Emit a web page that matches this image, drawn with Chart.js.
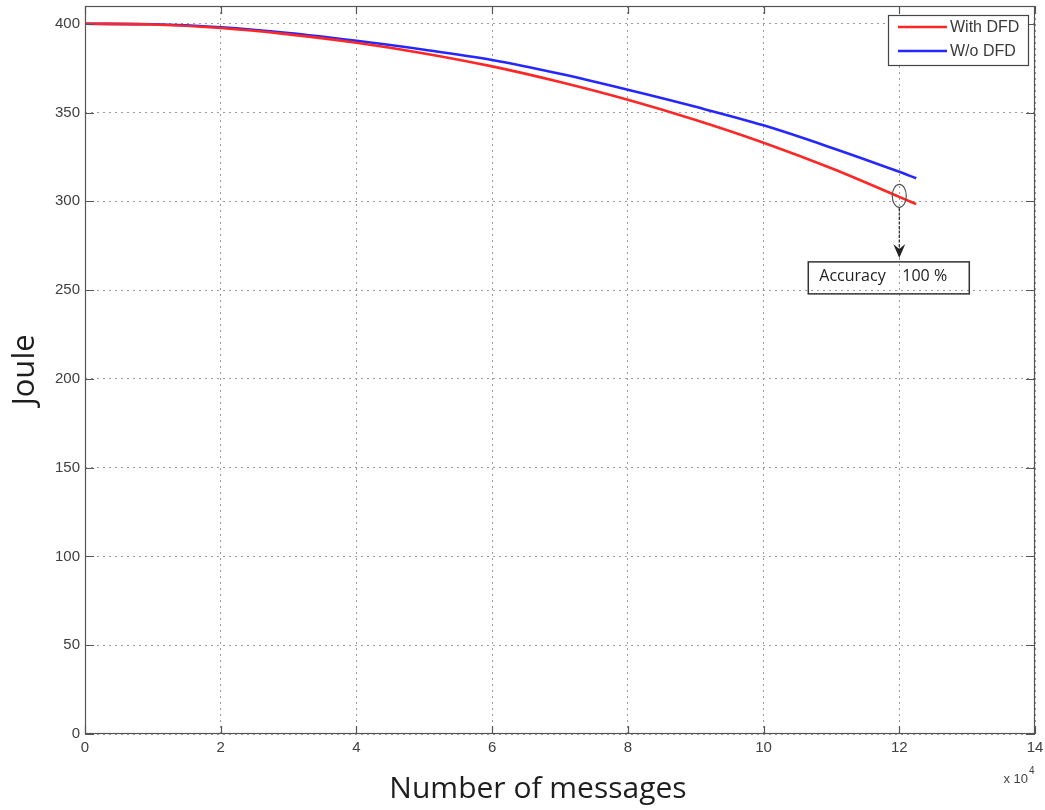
<!DOCTYPE html>
<html>
<head>
<meta charset="utf-8">
<script src="https://cdn.jsdelivr.net/npm/chart.js@4.4.1/dist/chart.umd.min.js"></script>
<style>
  html, body { margin: 0; padding: 0; background: #ffffff; }
  #wrap { width: 1045px; height: 810px; }
</style>
</head>
<body>
<div id="wrap"><canvas id="c" width="1045" height="810"></canvas></div>
<script>
// Number of messages, in units of 10^4
const messages = [0, 1, 2, 3, 4, 5, 6, 7, 8, 9, 10, 11, 12, 12.25];
// Residual energy (Joule)
const withDFD = [400, 399.6, 397.6, 394, 389.3, 383.3, 376, 367.2, 357.2, 345.8, 333, 318.6, 302.5, 298.4];
const withoutDFD = [400, 399.7, 398, 394.8, 390.4, 385.4, 379.6, 371.8, 362.8, 353.2, 342.8, 330.2, 316.6, 313];
const seriesNames = ['With DFD', 'W/o DFD'];
const seriesColors = ['#ff2626', '#2626ff'];
const xTicks = [0, 2, 4, 6, 8, 10, 12, 14];
const yTicks = [0, 50, 100, 150, 200, 250, 300, 350, 400];
const annotationPoint = { x: 12, y: 302.5, text1: 'Accuracy', text2: '100 %' };
const xTitle = 'Number of messages';
const xExponent = '4';

const tickFont = { family: '"Liberation Sans", Arial, sans-serif', size: 15 };

// Box around the axes with inward tick marks, legend, annotation, axis title, exponent label
const decorPlugin = {
  id: 'decor',
  afterDatasetsDraw(chart) {
    const { ctx, chartArea: a, scales: { x, y } } = chart;
    ctx.save();
    ctx.strokeStyle = '#555555';
    ctx.lineWidth = 1.2;
    ctx.setLineDash([]);
    ctx.strokeRect(a.left + 0.5, a.top + 0.5, a.right - a.left - 1, a.bottom - a.top - 1);
    ctx.beginPath();
    xTicks.forEach(v => {
      const px = Math.round(x.getPixelForValue(v)) + 0.5;
      ctx.moveTo(px, a.bottom); ctx.lineTo(px, a.bottom - 8);
      ctx.moveTo(px, a.top); ctx.lineTo(px, a.top + 8);
    });
    yTicks.forEach(v => {
      const py = Math.round(y.getPixelForValue(v)) + 0.5;
      ctx.moveTo(a.left, py); ctx.lineTo(a.left + 9, py);
      ctx.moveTo(a.right, py); ctx.lineTo(a.right - 9, py);
    });
    ctx.stroke();

    // x-axis title
    ctx.fillStyle = '#1e1e1e';
    ctx.font = '30px "Open Sans", sans-serif';
    ctx.textAlign = 'center';
    ctx.textBaseline = 'alphabetic';
    ctx.fillText(xTitle, 538, a.bottom + 64);

    // exponent label for the x axis
    ctx.fillStyle = '#444444';
    ctx.font = '13px "Liberation Sans", Arial, sans-serif';
    ctx.textAlign = 'right';
    ctx.fillText('x 10', a.right - 7, a.bottom + 49);
    ctx.font = '10px "Liberation Sans", Arial, sans-serif';
    ctx.textAlign = 'left';
    ctx.fillText(xExponent, a.right - 6, a.bottom + 40);

    // legend
    const lx = a.right - 147, ly = a.top + 9, lw = 140, lh = 50;
    ctx.fillStyle = '#ffffff';
    ctx.fillRect(lx, ly, lw, lh);
    ctx.strokeStyle = '#444444';
    ctx.lineWidth = 1.2;
    ctx.strokeRect(lx + 0.5, ly + 0.5, lw, lh);
    chart.data.datasets.forEach((ds, i) => {
      const yy = ly + 12 + i * 24;
      ctx.strokeStyle = ds.borderColor;
      ctx.lineWidth = 2.5;
      ctx.beginPath();
      ctx.moveTo(lx + 10, yy); ctx.lineTo(lx + 59, yy);
      ctx.stroke();
      ctx.fillStyle = '#3a3a3a';
      ctx.font = '16px "Liberation Sans", Arial, sans-serif';
      ctx.textAlign = 'left';
      ctx.textBaseline = 'middle';
      ctx.fillText(ds.label, lx + 62, yy + 1);
    });

    // annotation: ellipse on the point, arrow down to a text box
    const px = x.getPixelForValue(annotationPoint.x);
    const py = y.getPixelForValue(annotationPoint.y);
    ctx.strokeStyle = '#555555';
    ctx.lineWidth = 1.2;
    ctx.beginPath();
    ctx.ellipse(px, py - 1, 7, 11.5, 0, 0, Math.PI * 2);
    ctx.stroke();
    ctx.strokeStyle = '#222222';
    ctx.setLineDash([3, 1.5]);
    ctx.beginPath();
    ctx.moveTo(px, py + 11);
    ctx.lineTo(px, py + 55);
    ctx.stroke();
    ctx.setLineDash([]);
    ctx.fillStyle = '#222222';
    ctx.beginPath();
    ctx.moveTo(px, py + 61);
    ctx.lineTo(px - 6, py + 47);
    ctx.lineTo(px, py + 52);
    ctx.lineTo(px + 6, py + 47);
    ctx.closePath();
    ctx.fill();
    const bx = px - 91, by = py + 65, bw = 161, bh = 32;
    ctx.strokeStyle = '#333333';
    ctx.lineWidth = 1.5;
    ctx.strokeRect(bx, by, bw, bh);
    ctx.fillStyle = '#222222';
    ctx.font = '16px "Open Sans", sans-serif';
    ctx.textAlign = 'left';
    ctx.textBaseline = 'middle';
    ctx.fillText(annotationPoint.text1, bx + 11, by + 15);
    ctx.fillText(annotationPoint.text2, px + 3, by + 15);
    ctx.restore();
  }
};

new Chart(document.getElementById('c'), {
  type: 'line',
  data: {
    datasets: [
      { label: seriesNames[0], data: messages.map((m, i) => ({ x: m, y: withDFD[i] })),
        borderColor: seriesColors[0], borderWidth: 2.6, pointRadius: 0, cubicInterpolationMode: 'monotone', fill: false },
      { label: seriesNames[1], data: messages.map((m, i) => ({ x: m, y: withoutDFD[i] })),
        borderColor: seriesColors[1], borderWidth: 2.6, pointRadius: 0, cubicInterpolationMode: 'monotone', fill: false }
    ]
  },
  options: {
    responsive: false,
    animation: false,
    layout: { padding: { left: 0, right: 10, top: 6, bottom: 0 } },
    plugins: { legend: { display: false }, tooltip: { enabled: false } },
    scales: {
      x: {
        type: 'linear', min: 0, max: 14,
        afterBuildTicks: s => { s.ticks = xTicks.map(v => ({ value: v })); },
        afterFit: s => { s.height = 76; s.paddingLeft = 0; s.paddingRight = 0; },
        ticks: { font: tickFont, color: '#404040', padding: 5, maxRotation: 0 },
        grid: { color: '#9a9a9a', lineWidth: 1, drawTicks: false },
        border: { display: false, dash: [2, 4] },
        title: { display: false }
      },
      y: {
        type: 'linear', min: 0, max: 410,
        afterBuildTicks: s => { s.ticks = yTicks.map(v => ({ value: v })); },
        afterFit: s => { s.width = 85; s.paddingTop = 0; s.paddingBottom = 0; },
        ticks: { font: tickFont, color: '#404040', padding: 5 },
        grid: { color: '#9a9a9a', lineWidth: 1, drawTicks: false },
        border: { display: false, dash: [2, 4] },
        title: { display: true, text: 'Joule', font: { family: '"Open Sans", sans-serif', size: 31 }, color: '#1e1e1e', padding: { top: 7, bottom: 0 } }
      }
    }
  },
  plugins: [decorPlugin]
});
</script>
</body>
</html>
